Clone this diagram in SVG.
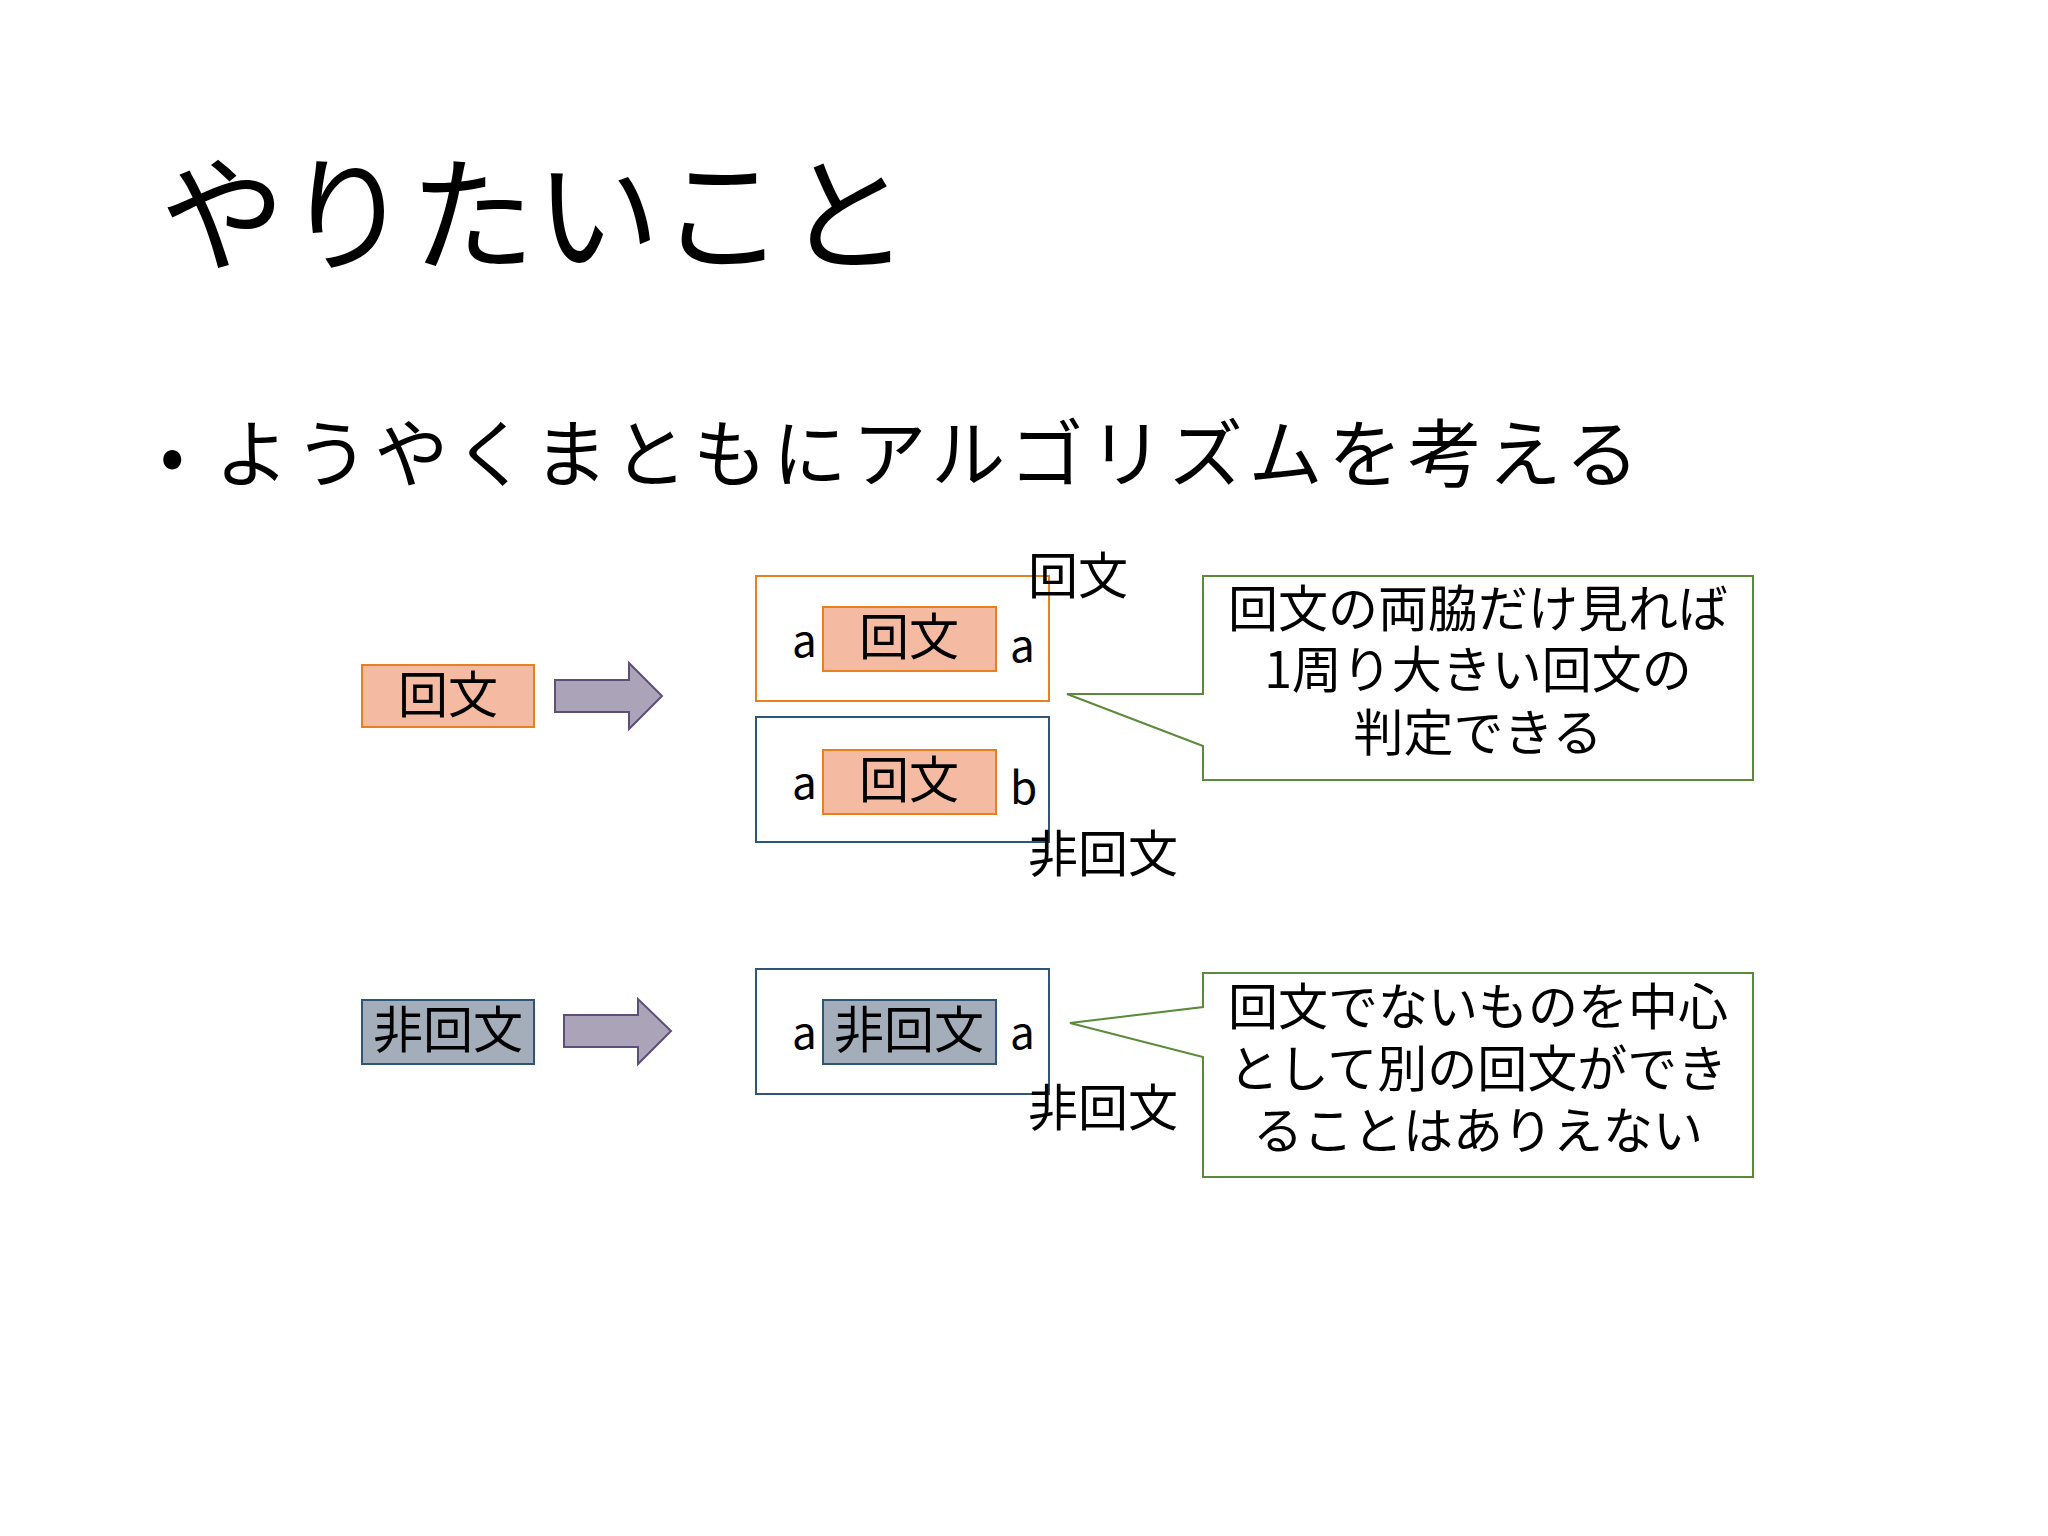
<svg xmlns="http://www.w3.org/2000/svg" width="2048" height="1536" viewBox="0 0 2048 1536">
<style>
text{font-family:"Noto Sans CJK JP","Noto Sans",sans-serif;fill:#000}
.pal{fill:#F4BBA2;stroke:#E8801F;stroke-width:2}
.non{fill:#A3AEBA;stroke:#2E5676;stroke-width:2}
.arr{fill:#ABA3B7;stroke:#5F4F78;stroke-width:2}
.t{font-size:50px;text-anchor:middle}
.s{font-size:44px}
.c{fill:#fff;stroke:#5A8A3A;stroke-width:2}
.ct{font-size:50px;text-anchor:middle}
</style>
<rect width="2048" height="1536" fill="#fff"/>
<text x="160" y="261" style="font-size:125px">やりたいこと</text>
<text x="160" y="481" style="font-size:72px">•</text>
<text x="215" y="481" style="font-size:74px" textLength="1424" lengthAdjust="spacing">ようやくまともにアルゴリズムを考える</text>
<g id="palin"><rect class="pal" x="362" y="665" width="172" height="62"/><text class="t" x="448" y="713">回文</text></g>
<g id="nonpalin"><rect class="non" x="362" y="1000" width="172" height="64"/><text class="t" x="448" y="1048">非回文</text></g>
<g id="connectors">
<path class="arr" d="M555,680H629V663L662,696L629,729V712H555Z"/>
<path class="arr" d="M564,1015H638V999L671,1031L638,1064V1047H564Z"/>
</g>
<g id="boxA"><rect x="756" y="576" width="293" height="125" fill="none" stroke="#E8801F" stroke-width="2"/>
<rect class="pal" x="823" y="607" width="173" height="64"/><text class="t" x="909" y="655">回文</text>
<text class="s" x="792" y="657">a</text><text class="s" x="1010" y="662">a</text>
<text x="1028" y="594" style="font-size:50px">回文</text></g>
<g id="boxB"><rect x="756" y="717" width="293" height="125" fill="none" stroke="#2E5676" stroke-width="2"/>
<rect class="pal" x="823" y="750" width="173" height="64"/><text class="t" x="909" y="798">回文</text>
<text class="s" x="792" y="799">a</text><text class="s" x="1010" y="804">b</text>
<text x="1028" y="872" style="font-size:50px">非回文</text></g>
<g id="boxC"><rect x="756" y="969" width="293" height="125" fill="none" stroke="#2E5676" stroke-width="2"/>
<rect class="non" x="823" y="1000" width="173" height="64"/><text class="t" x="909" y="1048">非回文</text>
<text class="s" x="792" y="1049">a</text><text class="s" x="1010" y="1049">a</text>
<text x="1028" y="1126" style="font-size:50px">非回文</text></g>
<g id="callout1"><path class="c" d="M1203,576H1753V780H1203V746L1067,694H1203Z"/>
<text class="ct" x="1478" y="627">回文の両脇だけ見れば</text>
<text class="ct" x="1478" y="688">1周り大きい回文の</text>
<text class="ct" x="1478" y="751">判定できる</text></g>
<g id="callout2"><path class="c" d="M1203,973H1753V1177H1203V1057L1070,1023L1203,1007Z"/>
<text class="ct" x="1478" y="1025">回文でないものを中心</text>
<text class="ct" x="1478" y="1087">として別の回文ができ</text>
<text class="ct" x="1478" y="1149">ることはありえない</text></g>
</svg>
